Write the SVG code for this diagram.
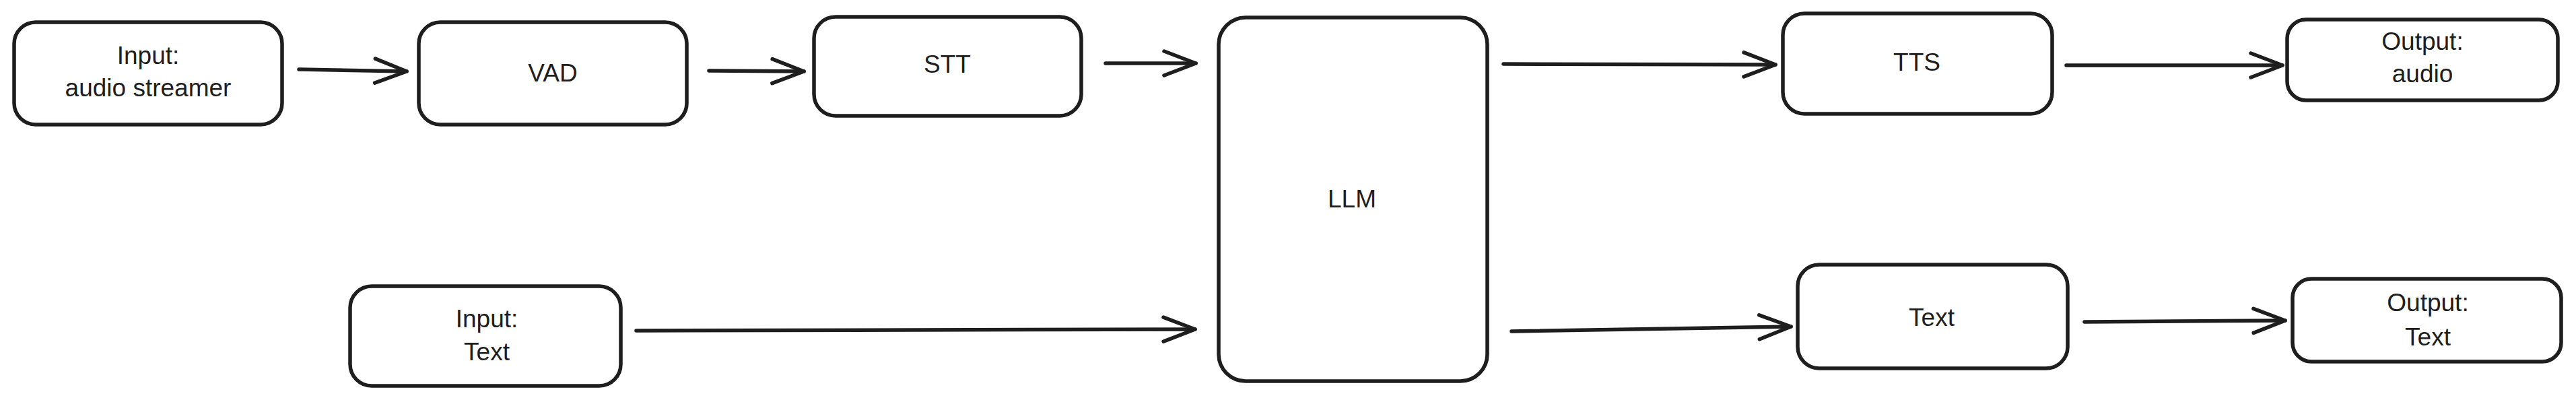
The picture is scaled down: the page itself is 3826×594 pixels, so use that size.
<svg xmlns="http://www.w3.org/2000/svg" width="3826" height="594" viewBox="0 0 3826 594">
<defs>
<style>
.box{fill:#ffffff;stroke:#1e1e1e;stroke-width:5.5;}
.lbl{font-family:"Liberation Sans","DejaVu Sans",sans-serif;font-size:37px;fill:#1e1e1e;text-anchor:middle;}
.edge{fill:none;stroke:#1e1e1e;stroke-width:5.5;stroke-linecap:round;}
</style>
<marker id="arr" markerUnits="userSpaceOnUse" viewBox="-54 -24 60 48" refX="0" refY="0" markerWidth="60" markerHeight="48" orient="auto">
<path d="M -47 -18 L 0 0 L -47 18" fill="none" stroke="#1e1e1e" stroke-width="5.5" stroke-linecap="round" stroke-linejoin="round"/>
</marker>
</defs>
<rect width="3826" height="594" fill="#ffffff"/>
<g id="connectors">
<path class="edge" marker-end="url(#arr)" d="M 444 103 L 604 106"/>
<path class="edge" marker-end="url(#arr)" d="M 1053 105 L 1194 106"/>
<path class="edge" marker-end="url(#arr)" d="M 1642 94 L 1776 94"/>
<path class="edge" marker-end="url(#arr)" d="M 2233 95 L 2637 96"/>
<path class="edge" marker-end="url(#arr)" d="M 3069 97 L 3390 97"/>
<path class="edge" marker-end="url(#arr)" d="M 945 491 L 1775 489"/>
<path class="edge" marker-end="url(#arr)" d="M 2245 492 L 2660 485"/>
<path class="edge" marker-end="url(#arr)" d="M 3096 478 L 3394 476"/>
</g>
<g id="input-audio">
<rect class="box" x="21" y="33" width="398" height="152" rx="32"/>
<text class="lbl" x="220" y="95">Input:</text>
<text class="lbl" x="220" y="143">audio streamer</text>
</g>
<g id="vad">
<rect class="box" x="622" y="33" width="398" height="152" rx="32"/>
<text class="lbl" x="821" y="121">VAD</text>
</g>
<g id="stt">
<rect class="box" x="1209" y="25" width="397" height="147" rx="32"/>
<text class="lbl" x="1407" y="108">STT</text>
</g>
<g id="llm">
<rect class="box" x="1810" y="26" width="399" height="540" rx="40"/>
<text class="lbl" x="2008" y="308">LLM</text>
</g>
<g id="tts">
<rect class="box" x="2648" y="20" width="400" height="149" rx="32"/>
<text class="lbl" x="2847" y="105">TTS</text>
</g>
<g id="output-audio">
<rect class="box" x="3397" y="29" width="402" height="120" rx="28"/>
<text class="lbl" x="3598" y="74">Output:</text>
<text class="lbl" x="3598" y="122">audio</text>
</g>
<g id="input-text">
<rect class="box" x="520" y="425" width="402" height="148" rx="32"/>
<text class="lbl" x="723" y="486">Input:</text>
<text class="lbl" x="723" y="535">Text</text>
</g>
<g id="text">
<rect class="box" x="2670" y="393" width="401" height="154" rx="32"/>
<text class="lbl" x="2869" y="484">Text</text>
</g>
<g id="output-text">
<rect class="box" x="3405" y="414" width="399" height="123" rx="28"/>
<text class="lbl" x="3606" y="462">Output:</text>
<text class="lbl" x="3606" y="513">Text</text>
</g>
</svg>
